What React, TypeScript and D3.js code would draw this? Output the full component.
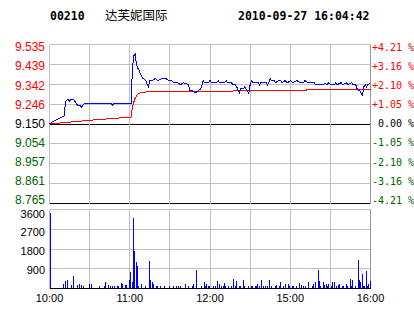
import React from "react";
import * as d3 from "d3";

// ---- data ----
const stockCode = "00210";
const stockName = "达芙妮国际";
const stamp = "2010-09-27 16:04:42";

const priceTicks = [9.535, 9.439, 9.342, 9.246, 9.15, 9.054, 8.957, 8.861, 8.765];
const pctLabels = ["+4.21 %", "+3.16 %", "+2.10 %", "+1.05 %", " 0.00 %", "-1.05 %", "-2.10 %", "-3.16 %", "-4.21 %"];
const volTicks = [3600, 2700, 1800, 900];
const timeTicks = [0, 60, 120, 180, 240];
const timeLabels = ["10:00", "11:00", "12:00", "15:00", "16:00"];
const prevClose = 9.15;

// price line (trading minute since 10:00, price)
const priceMin = [0, 2, 5, 8, 11, 12, 14, 15, 16, 18, 19, 21, 23, 24, 25, 26, 46, 47, 48, 61, 62, 63, 64, 65, 66, 67, 68, 69, 70, 72, 73, 74, 75, 77, 79, 81, 84, 87, 89, 91, 93, 96, 98, 100, 104, 105, 107, 109, 111, 113, 115, 116, 119, 120, 121, 125, 126, 127, 131, 132, 133, 136, 137, 139, 140, 142, 143, 145, 146, 148, 149, 150, 151, 152, 156, 157, 158, 162, 163, 164, 165, 166, 168, 169, 171, 173, 174, 176, 178, 180, 182, 185, 187, 190, 191, 193, 196, 198, 199, 201, 202, 205, 206, 207, 209, 210, 213, 214, 215, 218, 219, 222, 223, 226, 227, 229, 230, 232, 234, 235, 236, 237, 238, 240];
const priceVal = [9.15, 9.16, 9.17, 9.18, 9.19, 9.26, 9.27, 9.26, 9.27, 9.27, 9.26, 9.24, 9.24, 9.23, 9.24, 9.25, 9.25, 9.24, 9.25, 9.25, 9.42, 9.48, 9.49, 9.44, 9.42, 9.41, 9.39, 9.38, 9.37, 9.36, 9.34, 9.33, 9.36, 9.36, 9.37, 9.36, 9.37, 9.37, 9.36, 9.36, 9.35, 9.35, 9.34, 9.35, 9.34, 9.31, 9.31, 9.3, 9.31, 9.32, 9.36, 9.35, 9.35, 9.36, 9.35, 9.35, 9.36, 9.35, 9.35, 9.36, 9.35, 9.35, 9.34, 9.34, 9.33, 9.3, 9.32, 9.32, 9.33, 9.31, 9.3, 9.34, 9.36, 9.35, 9.35, 9.34, 9.35, 9.35, 9.34, 9.35, 9.37, 9.36, 9.36, 9.35, 9.36, 9.36, 9.35, 9.36, 9.35, 9.36, 9.35, 9.36, 9.35, 9.35, 9.36, 9.35, 9.35, 9.35, 9.34, 9.34, 9.34, 9.34, 9.35, 9.34, 9.35, 9.34, 9.34, 9.35, 9.34, 9.35, 9.34, 9.35, 9.34, 9.35, 9.34, 9.34, 9.32, 9.31, 9.29, 9.33, 9.34, 9.33, 9.34, 9.35];

// average price line
const avgMin = [0, 10, 20, 30, 40, 50, 61, 62, 64, 66, 68, 75, 80, 137, 138, 192, 193, 240];
const avgVal = [9.15, 9.156, 9.162, 9.168, 9.173, 9.178, 9.184, 9.235, 9.275, 9.295, 9.302, 9.307, 9.309, 9.309, 9.314, 9.314, 9.319, 9.319];

// volume bars
const volMin = [0, 10, 11, 13, 16, 17, 20, 22, 23, 25, 29, 31, 37, 40, 41, 43, 45, 46, 48, 50, 51, 53, 54, 56, 57, 59, 60, 61, 62, 63, 64, 65, 66, 68, 71, 74, 75, 76, 77, 79, 80, 82, 85, 89, 92, 94, 96, 97, 101, 103, 106, 107, 109, 113, 115, 116, 117, 118, 119, 122, 123, 125, 126, 128, 129, 130, 131, 133, 135, 137, 138, 139, 141, 142, 144, 145, 148, 150, 151, 153, 154, 155, 156, 158, 159, 161, 162, 164, 165, 168, 169, 171, 172, 174, 176, 178, 179, 181, 182, 184, 186, 188, 189, 191, 193, 196, 197, 198, 200, 201, 202, 204, 205, 206, 207, 208, 210, 211, 212, 214, 215, 216, 218, 219, 221, 222, 224, 225, 226, 228, 230, 231, 232, 233, 234, 235, 236, 237, 238, 239];
const volVal = [3450, 200, 330, 380, 150, 560, 180, 200, 150, 100, 200, 200, 100, 100, 290, 150, 100, 100, 100, 100, 100, 240, 200, 180, 150, 410, 750, 300, 3230, 1700, 1200, 1010, 100, 200, 100, 1240, 380, 290, 200, 100, 100, 100, 100, 100, 100, 100, 100, 100, 200, 100, 100, 200, 830, 100, 290, 100, 200, 100, 100, 100, 100, 330, 200, 100, 100, 240, 100, 100, 100, 420, 100, 330, 100, 100, 380, 100, 100, 100, 100, 100, 100, 200, 100, 380, 100, 100, 100, 380, 100, 100, 150, 100, 290, 100, 200, 200, 100, 100, 100, 100, 230, 150, 100, 100, 290, 100, 200, 290, 830, 330, 100, 290, 150, 200, 100, 200, 100, 290, 290, 100, 150, 200, 100, 100, 200, 100, 420, 100, 380, 100, 1290, 380, 290, 650, 100, 100, 790, 100, 200, 330];

// ---- chart ----
const W = 414;
const H = 314;
const GRID = "#c0c0c0";
const RED = "#ff0000";
const GREEN = "#006400";
const BLUE = "#0000ff";

export default function App() {
  const x = d3.scaleLinear().domain([0, 240]).range([49.5, 370.5]);
  const yP = d3.scaleLinear().domain([8.765, 9.535]).range([203.5, 44.5]);
  const yPL = d3.scaleLinear().domain([8.765, 9.535]).range([200, 47]);
  const yV = d3.scaleLinear().domain([0, 3600]).range([288.5, 209.5]);
  const yVL = d3.scaleLinear().domain([900, 3600]).range([269.7, 213.7]);

  const priceData = priceMin.map((m, i) => [m, priceVal[i]] as [number, number]);
  const avgData = avgMin.map((m, i) => [m, avgVal[i]] as [number, number]);
  const line = d3
    .line<[number, number]>()
    .x((d) => x(d[0]))
    .y((d) => yP(d[1]));

  const gridMins = d3.range(0, 241, 30);
  const colorFor = (v: number) => (Math.abs(v - prevClose) < 1e-6 ? "#000" : v > prevClose ? RED : GREEN);

  return (
    <svg
      width={W}
      height={H}
      style={{ position: "absolute", left: 0, top: 0, background: "#fff" }}
    >
      <rect x={0} y={0} width={W} height={H} fill="#fff" />
      {/* header */}
      <text x={50} y={20} fontFamily="DejaVu Sans Mono" fontWeight="bold" fontSize={11.5} fill="#000">
        {stockCode}
      </text>
      <text x={105} y={19.5} fontFamily="Noto Sans CJK SC" fontSize={12.5} fill="#000">
        {stockName}
      </text>
      <text x={238} y={20} fontFamily="DejaVu Sans Mono" fontWeight="bold" fontSize={11.5} fill="#000">
        {stamp}
      </text>

      {/* price grid */}
      <g shapeRendering="crispEdges">
        {priceTicks.map((t, i) => (
          <line
            key={"ph" + i}
            x1={x(0)}
            x2={x(240)}
            y1={yP(t)}
            y2={yP(t)}
            stroke={i === 4 || i === 8 ? "#000" : GRID}
            strokeWidth={1}
          />
        ))}
        {gridMins.map((m) => (
          <line key={"pv" + m} x1={x(m)} x2={x(m)} y1={yP(9.535)} y2={yP(8.765)} stroke={m === 240 ? "#999" : GRID} />
        ))}
        {/* volume grid */}
        {volTicks.map((t) => (
          <line key={"vh" + t} x1={x(0)} x2={x(240)} y1={yV(t)} y2={yV(t)} stroke={GRID} />
        ))}
        {gridMins.map((m) => (
          <line key={"vv" + m} x1={x(m)} x2={x(m)} y1={yV(3600)} y2={yV(0)} stroke={m === 240 ? "#999" : GRID} />
        ))}
        {/* volume bars */}
        {volMin.map((m, i) => (
          <rect key={"b" + i} x={x(m) + 0.5} y={yV(volVal[i])} width={1} height={yV(0) - yV(volVal[i])} fill={BLUE} />
        ))}
        <line x1={x(0)} x2={x(240)} y1={yV(0)} y2={yV(0)} stroke="#000" />
      </g>

      {/* lines */}
      <path d={line(avgData) || ""} fill="none" stroke={RED} strokeWidth={1} shapeRendering="crispEdges" />
      <path d={line(priceData) || ""} fill="none" stroke={BLUE} strokeWidth={1} shapeRendering="crispEdges" />

      {/* left price labels */}
      {priceTicks.map((t, i) => (
        <text
          key={"pl" + i}
          x={45}
          y={yPL(t) + 4.3}
          textAnchor="end"
          fontFamily="Liberation Sans, Arial, sans-serif"
          fontSize={12}
          fill={colorFor(t)}
        >
          {t.toFixed(3)}
        </text>
      ))}
      {/* right pct labels */}
      {priceTicks.map((t, i) => (
        <text
          key={"rl" + i}
          x={372}
          y={yPL(t) + 3.8}
          fontFamily="DejaVu Sans Mono, monospace"
          fontSize={10}
          fill={colorFor(t)}
          style={{ whiteSpace: "pre" }}
        >
          {pctLabels[i]}
        </text>
      ))}
      {/* volume labels */}
      {volTicks.map((t) => (
        <text
          key={"vl" + t}
          x={45}
          y={yVL(t) + 3.9}
          textAnchor="end"
          fontFamily="Liberation Sans, Arial, sans-serif"
          fontSize={11}
          fill="#000"
        >
          {t}
        </text>
      ))}
      {/* time labels */}
      {timeTicks.map((m, i) => (
        <text
          key={"tl" + m}
          x={x(m)}
          y={302}
          textAnchor="middle"
          fontFamily="Liberation Sans, Arial, sans-serif"
          fontSize={11}
          fill="#000"
        >
          {timeLabels[i]}
        </text>
      ))}
    </svg>
  );
}
